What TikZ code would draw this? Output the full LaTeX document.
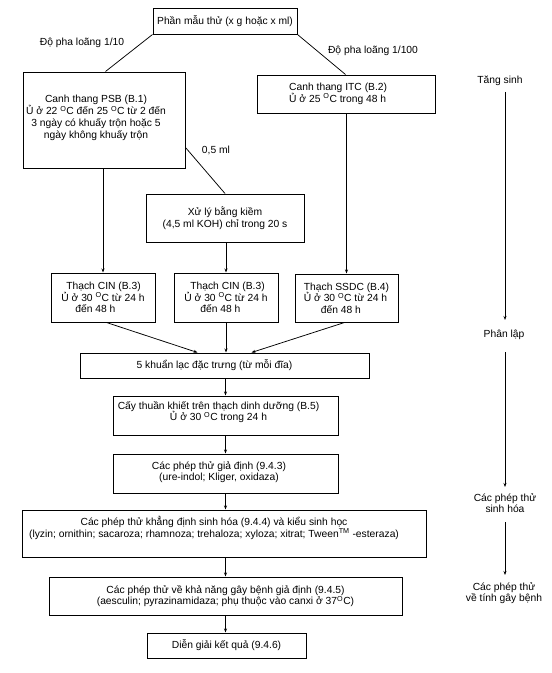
\documentclass[tikz,border=0pt]{standalone}
\usepackage{fontspec}
\setmainfont{Liberation Sans}
\usetikzlibrary{arrows.meta}
\newcommand\dgr{\textsuperscript{O}}
\begin{document}
\begin{tikzpicture}[x=1bp,y=-1bp,
  font=\fontsize{10.3bp}{11.5bp}\selectfont,
  box/.style={draw, line width=1pt, inner sep=0pt, align=center},
  lbl/.style={inner sep=0pt, align=center},
  flow/.style={line width=0.75pt, -{Stealth[length=4bp,width=3bp]}},
  plain/.style={line width=0.75pt}]
\useasboundingbox (0,0) rectangle (552,673);
% boxes
\node[box, minimum width=144bp, minimum height=25bp] (top) at (225,21.5) {Phần mẫu thử (x g hoặc x ml)};
\node[box, minimum width=162bp, minimum height=96bp] (psb) at (104,120) {};
\node[lbl, font=\fontsize{10.3bp}{12bp}\selectfont] (psbt) at (96,118) {Canh thang PSB (B.1)\\Ủ ở 22 \dgr C đến 25 \dgr C từ 2 đến\\3 ngày có khuấy trộn hoặc 5\\ngày không khuấy trộn};
\node[box, minimum width=178bp, minimum height=38bp] (itc) at (346,94) {};
\node[lbl, align=left, anchor=west] (itct) at (289,94) {Canh thang ITC (B.2)\\Ủ ở 25 \dgr C trong 48 h};
\node[box, minimum width=158bp, minimum height=48bp] (koh) at (225,218) {Xử lý bằng kiềm\\(4,5 ml KOH) chỉ trong 20 s};
\node[box, align=left, minimum width=104bp, minimum height=49bp] (cin1) at (103,297.5) {\hspace*{5bp}Thạch CIN (B.3)\\Ủ ở 30 \dgr C từ 24 h\\\hspace*{14bp}đến 48 h};
\node[box, align=left, minimum width=104bp, minimum height=49bp] (cin2) at (226,297.5) {\hspace*{6bp}Thạch CIN (B.3)\\Ủ ở 30 \dgr C từ 24 h\\\hspace*{16bp}đến 48 h};
\node[box, align=left, minimum width=103bp, minimum height=48bp] (ssdc) at (346.5,298) {Thạch SSDC (B.4)\\Ủ ở 30 \dgr C từ 24 h\\\hspace*{17bp}đến 48 h};
\node[box, minimum width=289bp, minimum height=25bp] (five) at (224.5,365.5) {};
\node[lbl] (fivet) at (214.5,365.5) {5 khuẩn lạc đặc trưng (từ mỗi đĩa)};
\node[box, minimum width=225bp, minimum height=39bp] (cay) at (225.5,415.5) {};
\node[lbl] (cayt) at (218.5,412) {Cấy thuần khiết trên thạch dinh dưỡng (B.5)\\Ủ ở 30 \dgr C trong 24 h};
\node[box, minimum width=225bp, minimum height=39bp] (gia) at (225.5,473.5) {};
\node[lbl] (giat) at (219,472) {Các phép thử giả định (9.4.3)\\(ure-indol; Kliger, oxidaza)};
\node[box, minimum width=403bp, minimum height=47bp] (khang) at (224.5,533.5) {};
\node[lbl] (khangt) at (214,528) {Các phép thử khẳng định sinh hóa (9.4.4) và kiểu sinh học\\(lyzin; ornithin; sacaroza; rhamnoza; trehaloza; xyloza; xitrat; Tween\textsuperscript{TM} -esteraza)};
\node[box, minimum width=353bp, minimum height=38bp] (kha) at (225.5,596) {Các phép thử về khả năng gây bệnh giả định (9.4.5)\\(aesculin; pyrazinamidaza; phụ thuộc vào canxi ở 37\dgr C)};
\node[box, minimum width=159bp, minimum height=25bp] (dien) at (226.5,645.5) {Diễn giải kết quả (9.4.6)};
% labels
\node[lbl] (d10) at (82,43) {Độ pha loãng 1/10};
\node[lbl] (d100) at (373,51) {Độ pha loãng 1/100};
\node[lbl] (l05) at (216,150) {0,5 ml};
% connectors
\draw[plain] (top.south west) -- ([xshift=83bp]psb.north west);
\draw[plain] (top.south east) -- ([xshift=89bp]itc.north west);
\draw[plain] ([yshift=21bp]psb.south east) -- (koh.north);
\draw[flow] (cin1.north |- psb.south) -- (cin1.north);
\draw[flow] (cin2.north |- koh.south) -- (cin2.north);
\draw[flow] (ssdc.north |- itc.south) -- (ssdc.north);
\draw[flow] ([xshift=56bp]cin1.south west) -- ([xshift=118bp]five.north west);
\draw[flow] (cin2.south) -- (cin2.south |- five.north);
\draw[flow] ([xshift=-2bp]ssdc.south) -- ([xshift=172bp]five.north west);
\draw[flow] (cay.north |- five.south) -- (cay.north);
\draw[flow] (gia.north |- cay.south) -- (gia.north);
\draw[flow] (gia.south) -- (gia.south |- khang.north);
\draw[flow] (gia.south |- khang.south) -- (gia.south |- kha.north);
\draw[flow] (gia.south |- kha.south) -- (gia.south |- dien.north);
% right column
\node[lbl] (tang) at (500,81) {Tăng sinh};
\node[lbl] (phan) at (504,335) {Phân lập};
\node[lbl] (sinh) at (505,503) {Các phép thử\\sinh hóa};
\node[lbl] (gay) at (504,593) {Các phép thử\\về tính gây bệnh};
\coordinate (r1a) at (505,92);
\coordinate (r1b) at (505,320);
\coordinate (r2a) at (505,352);
\coordinate (r2b) at (505,487);
\coordinate (r3a) at (505,522);
\coordinate (r3b) at (505,575);
\draw[flow] (r1a) -- (r1b);
\draw[flow] (r2a) -- (r2b);
\draw[flow] (r3a) -- (r3b);
\end{tikzpicture}
\end{document}
